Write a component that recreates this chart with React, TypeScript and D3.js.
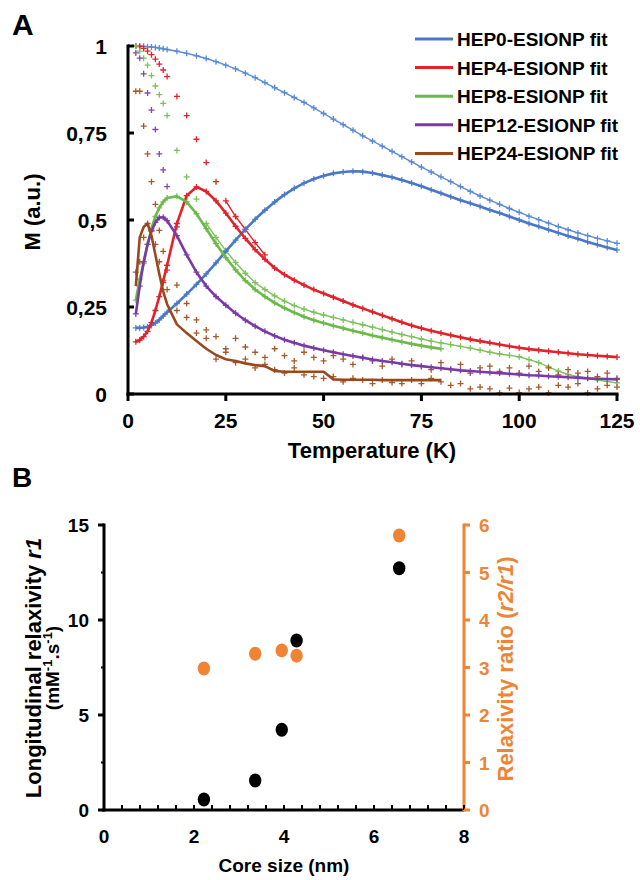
import * as d3 from "d3";

// temperature grid (K) shared by all panel A series
const TEMPS = [2, 3, 4, 5, 6, 7, 8, 9, 10, 12.5, 15, 17.5, 20, 22.5, 25, 27.5, 30, 32.5, 35, 37.5, 40, 42.5, 45, 47.5, 50, 52.5, 55, 57.5, 60, 62.5, 65, 67.5, 70, 72.5, 75, 77.5, 80, 82.5, 85, 87.5, 90, 92.5, 95, 97.5, 100, 102.5, 105, 107.5, 110, 112.5, 115, 117.5, 120, 122.5, 125];

type V = number | null;

const HEP0_FC: V[] = [1.0, 1.0, 0.999, 0.998, 0.997, 0.996, 0.994, 0.992, 0.99, 0.985, 0.979, 0.972, 0.964, 0.955, 0.945, 0.934, 0.922, 0.909, 0.895, 0.88, 0.866, 0.852, 0.838, 0.822, 0.806, 0.79, 0.774, 0.758, 0.742, 0.727, 0.712, 0.697, 0.682, 0.667, 0.652, 0.638, 0.624, 0.61, 0.596, 0.582, 0.569, 0.557, 0.545, 0.533, 0.522, 0.511, 0.501, 0.491, 0.481, 0.472, 0.463, 0.455, 0.447, 0.44, 0.433];
const HEP0_ZFC: V[] = [0.19, 0.19, 0.191, 0.193, 0.197, 0.204, 0.213, 0.224, 0.235, 0.26, 0.287, 0.315, 0.345, 0.377, 0.41, 0.442, 0.473, 0.502, 0.528, 0.552, 0.573, 0.591, 0.606, 0.618, 0.627, 0.634, 0.638, 0.64, 0.639, 0.635, 0.629, 0.623, 0.615, 0.606, 0.597, 0.587, 0.577, 0.567, 0.557, 0.548, 0.539, 0.529, 0.52, 0.51, 0.5, 0.49, 0.481, 0.472, 0.463, 0.454, 0.446, 0.437, 0.429, 0.421, 0.414];

const HEP4_FC: V[] = [1.0, 0.998, 0.993, 0.985, 0.975, 0.962, 0.948, 0.931, 0.912, 0.855, 0.8, 0.732, 0.665, 0.61, 0.555, 0.51, 0.473, 0.435, 0.4, null, null, null, null, null, null, null, null, null, null, null, null, null, null, null, null, null, null, null, null, null, null, null, null, null, null, null, null, null, null, null, null, null, null, null, null];
const HEP4_ZFC: V[] = [0.15, 0.155, 0.165, 0.18, 0.205, 0.24, 0.28, 0.325, 0.37, 0.49, 0.57, 0.595, 0.582, 0.555, 0.52, 0.482, 0.447, 0.415, 0.387, 0.362, 0.343, 0.327, 0.313, 0.3, 0.289, 0.278, 0.267, 0.256, 0.246, 0.236, 0.226, 0.216, 0.206, 0.197, 0.189, 0.182, 0.175, 0.169, 0.163, 0.157, 0.152, 0.147, 0.142, 0.137, 0.133, 0.129, 0.126, 0.123, 0.12, 0.117, 0.114, 0.112, 0.11, 0.108, 0.106];

const HEP8_FC: V[] = [1.0, 0.985, 0.965, 0.945, 0.915, 0.885, 0.86, 0.835, 0.8, 0.7, 0.624, 0.56, 0.49, 0.45, 0.412, 0.378, 0.347, 0.32, 0.3, 0.282, 0.267, 0.254, 0.244, 0.235, 0.227, 0.22, 0.213, 0.206, 0.199, 0.192, 0.185, 0.178, 0.171, 0.165, 0.158, 0.152, 0.147, 0.142, 0.137, 0.132, 0.126, 0.12, 0.115, 0.111, 0.107, 0.099, 0.09, 0.078, 0.066, 0.056, 0.05, 0.045, 0.04, 0.036, 0.032];
const HEP8_ZFC: V[] = [0.27, 0.33, 0.375, 0.43, 0.475, 0.51, 0.535, 0.552, 0.563, 0.568, 0.552, 0.518, 0.475, 0.432, 0.392, 0.357, 0.326, 0.3, 0.28, 0.262, 0.247, 0.234, 0.222, 0.212, 0.204, 0.196, 0.189, 0.182, 0.175, 0.168, 0.162, 0.156, 0.15, 0.144, 0.139, 0.134, 0.13, null, null, null, null, null, null, null, null, null, null, null, null, null, null, null, null, null, null];

const HEP12_FC: V[] = [0.98, 0.965, 0.92, 0.865, 0.816, 0.76, 0.69, 0.644, 0.596, 0.48, null, null, null, null, null, null, null, null, null, null, null, null, null, null, null, null, null, null, null, null, null, null, null, null, null, null, null, null, null, null, null, null, null, null, null, null, null, null, null, null, null, null, null, null, null];
const HEP12_ZFC: V[] = [0.23, 0.31, 0.38, 0.43, 0.468, 0.493, 0.507, 0.508, 0.498, 0.455, 0.4, 0.35, 0.31, 0.28, 0.255, 0.232, 0.212, 0.195, 0.18, 0.167, 0.156, 0.147, 0.139, 0.132, 0.126, 0.12, 0.114, 0.109, 0.104, 0.099, 0.095, 0.091, 0.087, 0.083, 0.08, 0.077, 0.074, 0.071, 0.068, 0.066, 0.064, 0.062, 0.06, 0.058, 0.056, 0.054, 0.053, 0.051, 0.05, 0.048, 0.047, 0.045, 0.044, 0.043, 0.042];

const HEP24_FC: V[] = [0.87, 0.87, 0.77, 0.69, 0.61, 0.545, 0.47, 0.41, 0.356, 0.313, 0.26, 0.213, 0.184, 0.165, 0.13, 0.16, 0.135, 0.12, 0.105, 0.13, 0.11, 0.095, 0.12, 0.105, 0.095, 0.11, 0.1, 0.085, 0.105, 0.095, 0.08, 0.1, 0.085, 0.095, 0.08, 0.07, 0.09, 0.07, 0.085, 0.06, 0.075, 0.08, 0.065, 0.075, 0.06, 0.08, 0.065, 0.075, 0.055, 0.07, 0.06, 0.065, 0.05, 0.06, 0.045];
const HEP24_ZFC_DATA: V[] = [0.35, 0.38, 0.45, 0.49, 0.47, 0.43, 0.38, 0.32, 0.3, 0.24, 0.22, 0.175, 0.16, 0.1, 0.12, 0.09, 0.1, 0.075, 0.085, 0.07, 0.06, 0.075, 0.055, 0.05, 0.045, 0.05, 0.035, 0.045, 0.04, 0.03, 0.04, 0.033, 0.03, 0.04, 0.03, 0.045, 0.035, 0.025, 0.03, 0.015, 0.02, 0.015, 0.003, 0.017, 0.004, 0.015, 0.02, 0.003, 0.025, 0.02, 0.03, 0.003, 0.015, 0.025, 0.02];
const HEP24_ZFC: V[] = [0.31, 0.45, 0.48, 0.49, 0.455, 0.4, 0.345, 0.295, 0.258, 0.2, 0.175, 0.152, 0.13, 0.112, 0.1, 0.095, 0.088, 0.083, 0.08, 0.066, 0.064, 0.064, 0.064, 0.064, 0.064, 0.042, 0.041, 0.041, 0.041, 0.041, 0.04, 0.04, 0.04, 0.04, 0.04, 0.04, 0.04, null, null, null, null, null, null, null, null, null, null, null, null, null, null, null, null, null, null];

const SAMPLE_LABELS = ["HEP0-ESIONP fit", "HEP4-ESIONP fit", "HEP8-ESIONP fit", "HEP12-ESIONP fit", "HEP24-ESIONP fit"];
const LINE_COLORS = ["#4a78c6", "#e2222b", "#6cb94a", "#7a3aa6", "#984a1e"];
const MARK_COLORS = ["#5b8ad6", "#e2222b", "#7cc25b", "#8447b3", "#a65a2a"];
const FC_SERIES = [HEP0_FC, HEP4_FC, HEP8_FC, HEP12_FC, HEP24_FC];
const ZFC_DATA = [HEP0_ZFC, HEP4_ZFC, HEP8_ZFC, HEP12_ZFC, HEP24_ZFC_DATA];
const ZFC_FITS = [HEP0_ZFC, HEP4_ZFC, HEP8_ZFC, HEP12_ZFC, HEP24_ZFC];
// dense FC runs drawn as a band: from this temperature on (null = markers only)
const FC_BAND_FROM: (number | null)[] = [0, 25, 20, null, null];

const A_XTICKS = [0, 25, 50, 75, 100, 125];
const A_YTICKS = [0, 0.25, 0.5, 0.75, 1];
const A_YLABELS = ["0", "0,25", "0,5", "0,75", "1"];

// panel B
const CORE_SIZE = [2.22, 3.36, 3.95, 4.28, 6.56];
const R1 = [0.55, 1.55, 4.22, 8.92, 12.72];
const RATIO = [2.98, 3.29, 3.36, 3.25, 5.78];
const B_XTICKS = [0, 2, 4, 6, 8];
const B_YTICKS = [0, 5, 10, 15];
const B_RTICKS = [0, 1, 2, 3, 4, 5, 6];
const ORANGE = "#ee8434";
const FONT = "'Liberation Sans', Arial, sans-serif";

function Plus({ x, y, color }: { x: number; y: number; color: string }) {
  return <path d={`M${x - 3},${y}h6M${x},${y - 3}v6`} stroke={color} strokeWidth={1.3} fill="none" />;
}

function PanelA() {
  const x = d3.scaleLinear().domain([0, 125]).range([128, 617]);
  const y = d3.scaleLinear().domain([0, 1]).range([394, 46]);
  const line = d3
    .line<V>()
    .defined((d) => d != null)
    .x((_d, i) => x(TEMPS[i]))
    .y((d) => y(d as number));
  const bandLine = (from: number) =>
    d3
      .line<V>()
      .defined((d, i) => d != null && TEMPS[i] >= from)
      .x((_d, i) => x(TEMPS[i]))
      .y((d) => y(d as number));

  const markers = (vals: V[], color: string, key: string) =>
    vals.map((v, i) => (v == null ? null : <Plus key={key + i} x={x(TEMPS[i])} y={y(v)} color={color} />));

  return (
    <g fontFamily={FONT} fontWeight="bold">
      <text x={12} y={35} fontSize={30}>A</text>
      {FC_SERIES.map((s, k) =>
        FC_BAND_FROM[k] == null ? null : (
          <path key={"band" + k} d={bandLine(FC_BAND_FROM[k] as number)(s) ?? ""} fill="none" stroke={MARK_COLORS[k]} strokeWidth={1.4} />
        )
      )}
      {FC_SERIES.map((s, k) => <g key={"fc" + k}>{markers(s, MARK_COLORS[k], "f")}</g>)}
      {ZFC_DATA.map((s, k) => <g key={"zd" + k}>{markers(s, MARK_COLORS[k], "z")}</g>)}
      {ZFC_FITS.map((s, k) => (
        <path key={"fit" + k} d={line(s) ?? ""} fill="none" stroke={LINE_COLORS[k]} strokeWidth={2.6} strokeLinejoin="round" />
      ))}
      {/* axes */}
      <line x1={128} x2={128} y1={y(1) - 1.5} y2={y(0) + 1.5} stroke="#000" strokeWidth={3} />
      <line x1={126.5} x2={x(125) + 1.5} y1={y(0)} y2={y(0)} stroke="#000" strokeWidth={3} />
      {A_YTICKS.map((t, i) => (
        <g key={"yt" + t}>
          <line x1={128} x2={134} y1={y(t)} y2={y(t)} stroke="#000" strokeWidth={3} />
          <text x={107} y={y(t) + 7.5} fontSize={21} textAnchor="end">{A_YLABELS[i]}</text>
        </g>
      ))}
      {A_XTICKS.map((t) => (
        <g key={"xt" + t}>
          <line x1={x(t)} x2={x(t)} y1={y(0)} y2={y(0) + 7} stroke="#000" strokeWidth={3} />
          <text x={x(t)} y={428} fontSize={21} textAnchor="middle">{t}</text>
        </g>
      ))}
      <text x={372} y={458} fontSize={22} textAnchor="middle">Temperature (K)</text>
      <text transform="translate(40,212) rotate(-90)" fontSize={22} textAnchor="middle">M (a.u.)</text>
      {/* legend */}
      {SAMPLE_LABELS.map((lab, k) => (
        <g key={"lg" + k} transform={`translate(0,${39 + k * 28.6})`}>
          <line x1={415} x2={453} y1={0} y2={0} stroke={LINE_COLORS[k]} strokeWidth={3} />
          <text x={457} y={7} fontSize={19}>{lab}</text>
        </g>
      ))}
    </g>
  );
}

function PanelB() {
  const x = d3.scaleLinear().domain([0, 8]).range([104, 464]);
  const yl = d3.scaleLinear().domain([0, 15]).range([810, 525]);
  const yr = d3.scaleLinear().domain([0, 6]).range([810, 525]);
  const minorX = d3.range(0, 8.001, 0.4);
  const minorY = [2.5, 7.5, 12.5];
  return (
    <g fontFamily={FONT} fontWeight="bold">
      <text x={12} y={487} fontSize={28}>B</text>
      {/* axes */}
      <line x1={104} x2={104} y1={yl(15) - 1.5} y2={yl(0) + 1.5} stroke="#000" strokeWidth={3} />
      <line x1={102.5} x2={464} y1={yl(0)} y2={yl(0)} stroke="#000" strokeWidth={3} />
      <line x1={464} x2={464} y1={yr(6) - 1.5} y2={yr(0) + 1.5} stroke={ORANGE} strokeWidth={3} />
      {minorX.map((t) => (
        <line key={"mx" + t} x1={x(t)} x2={x(t)} y1={yl(0)} y2={yl(0) - 5} stroke="#000" strokeWidth={2} />
      ))}
      {B_YTICKS.map((t) => (
        <g key={"by" + t}>
          <line x1={98} x2={104} y1={yl(t)} y2={yl(t)} stroke="#000" strokeWidth={3} />
          <text x={89} y={yl(t) + 7} fontSize={19} textAnchor="end">{t}</text>
        </g>
      ))}
      {minorY.map((t) => (
        <line key={"my" + t} x1={101} x2={104} y1={yl(t)} y2={yl(t)} stroke="#000" strokeWidth={2} />
      ))}
      {B_RTICKS.map((t) => (
        <g key={"br" + t}>
          <line x1={464} x2={470} y1={yr(t)} y2={yr(t)} stroke={ORANGE} strokeWidth={3} />
          <text x={479} y={yr(t) + 7} fontSize={19} fill={ORANGE}>{t}</text>
        </g>
      ))}
      {B_XTICKS.map((t) => (
        <text key={"bx" + t} x={x(t)} y={843} fontSize={19} textAnchor="middle">{t}</text>
      ))}
      <text x={284} y={872} fontSize={19} textAnchor="middle">Core size (nm)</text>
      <text transform="translate(41,668) rotate(-90)" fontSize={22} textAnchor="middle">
        Longitudinal<tspan dx={6}>relaxivity </tspan><tspan fontStyle="italic">r1</tspan>
      </text>
      <text transform="translate(59,668) rotate(-90)" fontSize={19} textAnchor="middle">
        (mM<tspan dy={-7} fontSize={13}>-1</tspan><tspan dy={7}>.s</tspan><tspan dy={-7} fontSize={13}>-1</tspan><tspan dy={7}>)</tspan>
      </text>
      <text transform="translate(513,669) rotate(-90)" fontSize={22} textAnchor="middle" fill={ORANGE}>
        Relaxivity ratio (<tspan fontStyle="italic">r2/r1</tspan>)
      </text>
      {/* points */}
      {CORE_SIZE.map((c, i) => (
        <ellipse key={"o" + i} cx={x(c)} cy={yr(RATIO[i])} rx={6.2} ry={7} fill={ORANGE} />
      ))}
      {CORE_SIZE.map((c, i) => (
        <ellipse key={"k" + i} cx={x(c)} cy={yl(R1[i])} rx={6.2} ry={7} fill="#000" />
      ))}
    </g>
  );
}

export default function App() {
  return (
    <div style={{ position: "absolute", left: 0, top: 0 }}>
      <svg width={640} height={880} viewBox="0 0 640 880" style={{ display: "block", background: "#fff" }}>
        <PanelA />
        <PanelB />
      </svg>
    </div>
  );
}
